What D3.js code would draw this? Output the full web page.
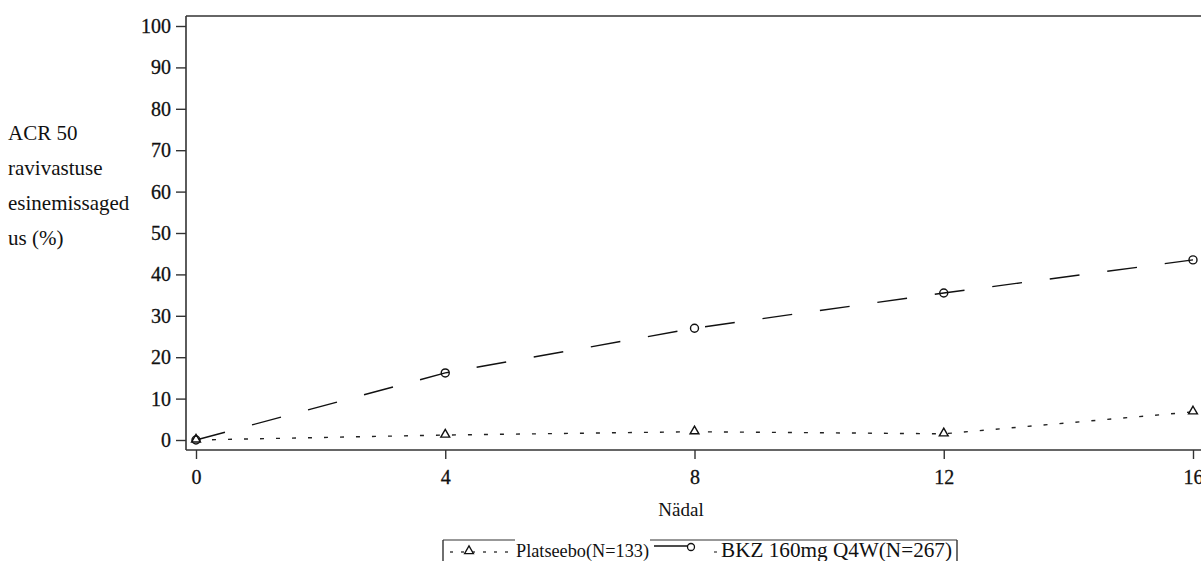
<!DOCTYPE html>
<html>
<head>
<meta charset="utf-8">
<title>ACR 50</title>
<script src="https://d3js.org/d3.v7.min.js"></script>
<style>
  body { margin: 0; background: #fff; }
  text { font-family: "Liberation Serif", "DejaVu Serif", serif; fill: #111; }
</style>
</head>
<body>
<script>
// data
var weeks = [0, 4, 8, 12, 16];
var placebo = [0, 1.2, 2.0, 1.5, 6.8];
var bkz = [0, 16.2, 27.0, 35.5, 43.5];
var yTicks = [0, 10, 20, 30, 40, 50, 60, 70, 80, 90, 100];
var xTicks = [0, 4, 8, 12, 16];
var yTitle = ["ACR 50", "ravivastuse", "esinemissaged", "us (%)"];
var xTitle = "Nädal";
var legendNames = ["Platseebo(N=133)", "BKZ 160mg Q4W(N=267)"];

var W = 1201, H = 561;
var svg = d3.select("body").append("svg").attr("width", W).attr("height", H);

var x = d3.scaleLinear().domain([0, 16]).range([196, 1193]);
var y = d3.scaleLinear().domain([0, 100]).range([440, 26]);

// frame
var frame = svg.append("g").attr("stroke", "#333").attr("stroke-width", 1.6).attr("fill", "none");
frame.append("line").attr("x1", 186).attr("x2", 1210).attr("y1", 16).attr("y2", 16);
frame.append("line").attr("x1", 186).attr("x2", 186).attr("y1", 16).attr("y2", 450);
frame.append("line").attr("x1", 186).attr("x2", 1210).attr("y1", 450).attr("y2", 450);

// y axis
var yAxis = svg.append("g").attr("transform", "translate(186,0)")
  .call(d3.axisLeft(y).tickValues(yTicks).tickSize(10).tickPadding(5));
yAxis.select(".domain").remove();
yAxis.selectAll("line").attr("stroke", "#333").attr("stroke-width", 1.4);
yAxis.selectAll("text").style("font-family", "Liberation Serif").style("font-size", "20px")
  .attr("fill", "#111").attr("stroke", "#111").attr("stroke-width", 0.3);

// x axis
var xAxis = svg.append("g").attr("transform", "translate(0,450)")
  .call(d3.axisBottom(x).tickValues(xTicks).tickSize(9).tickPadding(11));
xAxis.select(".domain").remove();
xAxis.selectAll("line").attr("stroke", "#333").attr("stroke-width", 1.4);
xAxis.selectAll("text").style("font-family", "Liberation Serif").style("font-size", "20px")
  .attr("fill", "#111").attr("stroke", "#111").attr("stroke-width", 0.3);

// axis titles
svg.append("text").attr("x", 681).attr("y", 516).attr("text-anchor", "middle")
  .style("font-size", "19px").text(xTitle);
svg.selectAll(".ytitle").data(yTitle).enter().append("text")
  .attr("x", 8).attr("y", function(d, i) { return 140 + i * 35; })
  .style("font-size", "21px").text(function(d) { return d; });

// lines
var line = d3.line().x(function(d, i) { return x(weeks[i]); }).y(function(d) { return y(d); });

svg.append("path").datum(bkz).attr("d", line)
  .attr("fill", "none").attr("stroke", "#111").attr("stroke-width", 1.4)
  .attr("stroke-dasharray", "30,28");
svg.append("path").datum(placebo).attr("d", line)
  .attr("fill", "none").attr("stroke", "#222").attr("stroke-width", 1.4)
  .attr("stroke-dasharray", "4,12");

// markers
var tri = d3.symbol().type(d3.symbolTriangle).size(34);
svg.selectAll(".pm").data(placebo).enter().append("path")
  .attr("d", tri)
  .attr("transform", function(d, i) { return "translate(" + x(weeks[i]) + "," + (y(d) - 0.5) + ")"; })
  .attr("fill", "#fff").attr("stroke", "#111").attr("stroke-width", 1.4);
svg.selectAll(".bm").data(bkz).enter().append("circle")
  .attr("cx", function(d, i) { return x(weeks[i]); })
  .attr("cy", function(d) { return y(d); })
  .attr("r", 4).attr("fill", "none").attr("stroke", "#111").attr("stroke-width", 1.4);

// legend (cut off at the bottom like the reference)
var lg = svg.append("g");
lg.append("line").attr("x1", 443).attr("x2", 443).attr("y1", 540).attr("y2", 565).attr("stroke", "#333").attr("stroke-width", 1.4);
lg.append("line").attr("x1", 957).attr("x2", 957).attr("y1", 540).attr("y2", 565).attr("stroke", "#333").attr("stroke-width", 1.4);
lg.append("line").attr("x1", 443).attr("x2", 515).attr("y1", 540).attr("y2", 540).attr("stroke", "#333").attr("stroke-width", 1.2);
lg.append("line").attr("x1", 650).attr("x2", 957).attr("y1", 540).attr("y2", 540).attr("stroke", "#333").attr("stroke-width", 1.2);
lg.append("line").attr("x1", 450).attr("x2", 515).attr("y1", 552).attr("y2", 552)
  .attr("stroke", "#444").attr("stroke-width", 1.3).attr("stroke-dasharray", "3,8");
lg.append("path").attr("d", tri).attr("transform", "translate(469,551)")
  .attr("fill", "#fff").attr("stroke", "#111").attr("stroke-width", 1.3);
lg.append("line").attr("x1", 654).attr("x2", 688).attr("y1", 546).attr("y2", 546)
  .attr("stroke", "#111").attr("stroke-width", 1.4);
lg.append("circle").attr("cx", 691).attr("cy", 547).attr("r", 3.5)
  .attr("fill", "#fff").attr("stroke", "#111").attr("stroke-width", 1.3);
lg.append("line").attr("x1", 714).attr("x2", 717).attr("y1", 552).attr("y2", 552)
  .attr("stroke", "#444").attr("stroke-width", 1.3);
lg.append("text").attr("x", 516).attr("y", 557).style("font-size", "18.5px")
  .attr("textLength", 133).attr("lengthAdjust", "spacingAndGlyphs").text(legendNames[0]);
lg.append("text").attr("x", 721).attr("y", 557).style("font-size", "20.5px")
  .attr("textLength", 231).attr("lengthAdjust", "spacingAndGlyphs").text(legendNames[1]);
</script>
</body>
</html>
